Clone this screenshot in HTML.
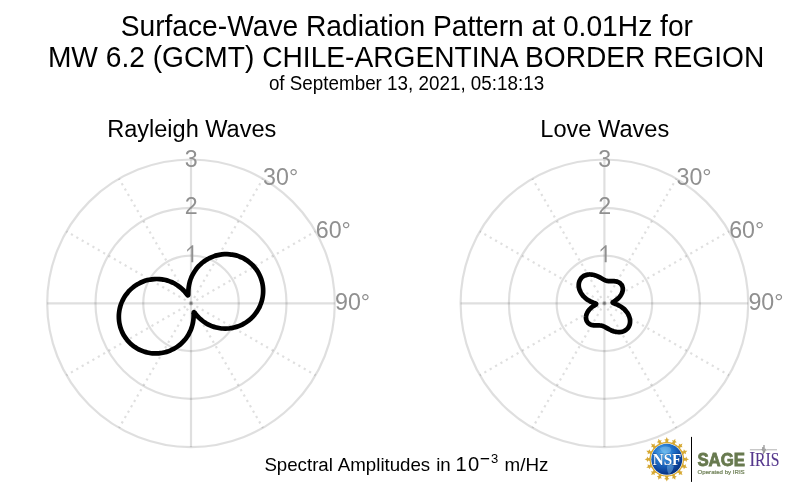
<!DOCTYPE html>
<html><head><meta charset="utf-8"><title>Surface-Wave Radiation Pattern</title>
<style>
html,body{margin:0;padding:0;background:#fff;}
body{width:800px;height:493px;overflow:hidden;font-family:"Liberation Sans",sans-serif;}
svg{display:block;will-change:transform;font-family:"Liberation Sans",sans-serif;}
</style></head><body>
<svg width="800" height="493" viewBox="0 0 800 493">
<rect width="800" height="493" fill="#fff"/>
<g fill="#000" text-anchor="middle">
<text transform="translate(406.8,35.5) scale(1,1.03)" font-size="28.2">Surface-Wave Radiation Pattern at 0.01Hz for</text>
<text transform="translate(406.1,66.5) scale(1,1.03)" font-size="28.16">MW 6.2 (GCMT) CHILE-ARGENTINA BORDER REGION</text>
<text transform="translate(406.5,89.7) scale(1,1.03)" font-size="18.83">of September 13, 2021, 05:18:13</text>
<text transform="translate(191.75,136.8) scale(1,1.03)" font-size="23.55">Rayleigh Waves</text>
<text transform="translate(604.75,136.8) scale(1,1.03)" font-size="23.6">Love Waves</text>
</g>
<circle cx="191.0" cy="303.3" r="47.75" stroke="#000" stroke-opacity="0.125" stroke-width="2.2" fill="none"/>
<circle cx="191.0" cy="303.3" r="95.50" stroke="#000" stroke-opacity="0.125" stroke-width="2.2" fill="none"/>
<circle cx="191.0" cy="303.3" r="143.80" stroke="#000" stroke-opacity="0.125" stroke-width="2.2" fill="none"/>
<line x1="191.0" y1="303.3" x2="191.00" y2="159.50" stroke="#000" stroke-opacity="0.125" stroke-width="2.2" fill="none"/>
<line x1="191.0" y1="303.3" x2="262.90" y2="178.77" stroke="#000" stroke-opacity="0.125" stroke-width="2.2" fill="none" stroke-dasharray="2.2 4.0" />
<line x1="191.0" y1="303.3" x2="315.53" y2="231.40" stroke="#000" stroke-opacity="0.125" stroke-width="2.2" fill="none" stroke-dasharray="2.2 4.0" />
<line x1="191.0" y1="303.3" x2="334.80" y2="303.30" stroke="#000" stroke-opacity="0.125" stroke-width="2.2" fill="none"/>
<line x1="191.0" y1="303.3" x2="315.53" y2="375.20" stroke="#000" stroke-opacity="0.125" stroke-width="2.2" fill="none" stroke-dasharray="2.2 4.0" />
<line x1="191.0" y1="303.3" x2="262.90" y2="427.83" stroke="#000" stroke-opacity="0.125" stroke-width="2.2" fill="none" stroke-dasharray="2.2 4.0" />
<line x1="191.0" y1="303.3" x2="191.00" y2="447.10" stroke="#000" stroke-opacity="0.125" stroke-width="2.2" fill="none"/>
<line x1="191.0" y1="303.3" x2="119.10" y2="427.83" stroke="#000" stroke-opacity="0.125" stroke-width="2.2" fill="none" stroke-dasharray="2.2 4.0" />
<line x1="191.0" y1="303.3" x2="66.47" y2="375.20" stroke="#000" stroke-opacity="0.125" stroke-width="2.2" fill="none" stroke-dasharray="2.2 4.0" />
<line x1="191.0" y1="303.3" x2="47.20" y2="303.30" stroke="#000" stroke-opacity="0.125" stroke-width="2.2" fill="none"/>
<line x1="191.0" y1="303.3" x2="66.47" y2="231.40" stroke="#000" stroke-opacity="0.125" stroke-width="2.2" fill="none" stroke-dasharray="2.2 4.0" />
<line x1="191.0" y1="303.3" x2="119.10" y2="178.77" stroke="#000" stroke-opacity="0.125" stroke-width="2.2" fill="none" stroke-dasharray="2.2 4.0" />
<path d="M193.25,262.15 V245.15 H191.95 L187.15,249.85 V251.65 L191.30,247.85 V262.15 Z" fill="#909090"/>
<text transform="translate(191.30,214.45) scale(0.94,1)" font-size="24.7" fill="#909090" text-anchor="middle">2</text>
<text transform="translate(191.30,166.70) scale(0.94,1)" font-size="24.7" fill="#909090" text-anchor="middle">3</text>
<text transform="translate(263.10,185.37) scale(0.94,1)" font-size="24.7" fill="#909090">30°</text>
<text transform="translate(315.73,238.00) scale(0.94,1)" font-size="24.7" fill="#909090">60°</text>
<text transform="translate(335.00,309.90) scale(0.94,1)" font-size="24.7" fill="#909090">90°</text>
<path d="M191.00,278.26C191.30,277.51 191.62,276.75 191.97,276.01C192.32,275.26 192.70,274.53 193.10,273.80C193.50,273.07 193.93,272.35 194.38,271.65C194.83,270.94 195.31,270.25 195.81,269.57C196.31,268.89 196.84,268.23 197.39,267.58C197.93,266.94 198.51,266.31 199.10,265.69C199.69,265.08 200.31,264.49 200.94,263.92C201.58,263.35 202.24,262.79 202.91,262.26C203.59,261.73 204.28,261.22 204.99,260.74C205.70,260.26 206.43,259.79 207.18,259.36C207.92,258.92 208.68,258.51 209.45,258.13C210.23,257.74 211.02,257.38 211.81,257.05C212.61,256.72 213.43,256.41 214.25,256.13C215.07,255.86 215.90,255.61 216.74,255.39C217.58,255.17 218.43,254.98 219.28,254.82C220.13,254.65 220.99,254.52 221.86,254.42C222.72,254.32 223.59,254.24 224.45,254.20C225.32,254.16 226.19,254.15 227.06,254.16C227.93,254.18 228.80,254.23 229.67,254.31C230.53,254.39 231.40,254.50 232.25,254.64C233.11,254.77 233.97,254.94 234.81,255.14C235.66,255.34 236.50,255.57 237.33,255.83C238.16,256.08 238.98,256.37 239.79,256.69C240.60,257.00 241.40,257.34 242.18,257.72C242.97,258.09 243.74,258.49 244.49,258.91C245.25,259.34 245.99,259.79 246.72,260.27C247.44,260.75 248.15,261.25 248.84,261.78C249.52,262.31 250.19,262.86 250.84,263.44C251.49,264.01 252.12,264.61 252.73,265.23C253.33,265.85 253.92,266.49 254.48,267.15C255.04,267.81 255.57,268.49 256.08,269.19C256.60,269.89 257.08,270.61 257.54,271.34C258.00,272.08 258.44,272.83 258.85,273.59C259.25,274.36 259.63,275.14 259.99,275.93C260.34,276.72 260.66,277.52 260.96,278.34C261.25,279.15 261.52,279.98 261.75,280.81C261.99,281.64 262.20,282.49 262.38,283.33C262.55,284.18 262.70,285.04 262.82,285.89C262.93,286.75 263.02,287.61 263.08,288.48C263.13,289.34 263.16,290.21 263.15,291.08C263.15,291.94 263.12,292.81 263.05,293.67C262.99,294.54 262.89,295.40 262.76,296.26C262.64,297.11 262.48,297.97 262.30,298.81C262.11,299.66 261.90,300.50 261.66,301.33C261.42,302.16 261.14,302.99 260.84,303.80C260.54,304.61 260.22,305.41 259.86,306.20C259.51,306.99 259.12,307.77 258.72,308.54C258.31,309.30 257.87,310.05 257.41,310.78C256.95,311.51 256.47,312.23 255.96,312.93C255.45,313.63 254.92,314.31 254.37,314.97C253.81,315.64 253.24,316.28 252.64,316.90C252.04,317.52 251.42,318.13 250.79,318.71C250.15,319.29 249.49,319.84 248.82,320.38C248.14,320.91 247.45,321.42 246.74,321.91C246.03,322.40 245.31,322.86 244.57,323.30C243.83,323.74 243.08,324.15 242.32,324.53C241.55,324.92 240.77,325.28 239.99,325.61C239.20,325.94 238.40,326.25 237.60,326.53C236.79,326.80 235.98,327.05 235.15,327.28C234.33,327.50 233.51,327.69 232.68,327.86C231.84,328.03 231.01,328.17 230.17,328.28C229.33,328.39 228.49,328.47 227.65,328.52C226.81,328.57 225.97,328.60 225.13,328.59C224.29,328.59 223.45,328.56 222.61,328.50C221.78,328.44 220.95,328.35 220.12,328.24C219.30,328.12 218.48,327.98 217.67,327.81C216.86,327.64 216.05,327.45 215.26,327.23C214.46,327.00 213.68,326.76 212.91,326.49C212.13,326.21 211.37,325.92 210.63,325.60C209.88,325.28 209.15,324.94 208.43,324.57C207.71,324.21 207.01,323.82 206.32,323.41C205.64,323.01 204.97,322.58 204.33,322.14C203.68,321.70 203.05,321.24 202.45,320.77C201.84,320.30 201.26,319.82 200.70,319.33C200.14,318.84 199.61,318.34 199.10,317.84C198.60,317.34 198.12,316.84 197.67,316.34C197.22,315.85 196.80,315.37 196.42,314.92C196.04,314.46 195.69,314.04 195.39,313.66C195.08,313.28 194.82,312.95 194.60,312.71C194.38,312.46 194.21,312.30 194.07,312.25C193.94,312.19 193.86,312.25 193.80,312.41C193.74,312.58 193.71,312.85 193.70,313.21C193.68,313.57 193.68,314.03 193.68,314.54C193.67,315.05 193.66,315.63 193.64,316.24C193.62,316.85 193.59,317.51 193.54,318.19C193.48,318.87 193.41,319.58 193.32,320.30C193.22,321.02 193.11,321.76 192.97,322.51C192.82,323.26 192.66,324.01 192.47,324.77C192.27,325.53 192.06,326.29 191.81,327.06C191.57,327.82 191.30,328.58 191.00,329.34C190.70,330.09 190.38,330.85 190.03,331.59C189.68,332.34 189.30,333.07 188.90,333.80C188.50,334.53 188.07,335.25 187.62,335.95C187.17,336.66 186.69,337.35 186.19,338.03C185.69,338.71 185.16,339.37 184.61,340.02C184.07,340.66 183.49,341.29 182.90,341.91C182.31,342.52 181.69,343.11 181.06,343.68C180.42,344.25 179.76,344.81 179.09,345.34C178.41,345.87 177.72,346.38 177.01,346.86C176.30,347.34 175.57,347.81 174.82,348.24C174.08,348.68 173.32,349.09 172.55,349.47C171.77,349.86 170.98,350.22 170.19,350.55C169.39,350.88 168.57,351.19 167.75,351.47C166.93,351.74 166.10,351.99 165.26,352.21C164.42,352.43 163.57,352.62 162.72,352.78C161.87,352.95 161.01,353.08 160.14,353.18C159.28,353.28 158.41,353.36 157.55,353.40C156.68,353.44 155.81,353.45 154.94,353.44C154.07,353.42 153.20,353.37 152.33,353.29C151.47,353.21 150.60,353.10 149.75,352.96C148.89,352.83 148.03,352.66 147.19,352.46C146.34,352.26 145.50,352.03 144.67,351.77C143.84,351.52 143.02,351.23 142.21,350.91C141.40,350.60 140.60,350.26 139.82,349.88C139.03,349.51 138.26,349.11 137.51,348.69C136.75,348.26 136.01,347.81 135.28,347.33C134.56,346.85 133.85,346.35 133.16,345.82C132.48,345.29 131.81,344.74 131.16,344.16C130.51,343.59 129.88,342.99 129.27,342.37C128.67,341.75 128.08,341.11 127.52,340.45C126.96,339.79 126.43,339.11 125.92,338.41C125.40,337.71 124.92,336.99 124.46,336.26C124.00,335.52 123.56,334.77 123.15,334.01C122.75,333.24 122.37,332.46 122.01,331.67C121.66,330.88 121.34,330.08 121.04,329.26C120.75,328.45 120.48,327.62 120.25,326.79C120.01,325.96 119.80,325.11 119.62,324.27C119.45,323.42 119.30,322.56 119.18,321.71C119.07,320.85 118.98,319.99 118.92,319.12C118.87,318.26 118.84,317.39 118.85,316.52C118.85,315.66 118.88,314.79 118.95,313.93C119.01,313.06 119.11,312.20 119.24,311.34C119.36,310.49 119.52,309.63 119.70,308.79C119.89,307.94 120.10,307.10 120.34,306.27C120.58,305.44 120.86,304.61 121.16,303.80C121.46,302.99 121.78,302.19 122.14,301.40C122.49,300.61 122.88,299.83 123.28,299.06C123.69,298.30 124.13,297.55 124.59,296.82C125.05,296.09 125.53,295.37 126.04,294.67C126.55,293.97 127.08,293.29 127.63,292.63C128.19,291.96 128.76,291.32 129.36,290.70C129.96,290.08 130.58,289.47 131.21,288.89C131.85,288.31 132.51,287.76 133.18,287.22C133.86,286.69 134.55,286.18 135.26,285.69C135.97,285.20 136.69,284.74 137.43,284.30C138.17,283.86 138.92,283.45 139.68,283.07C140.45,282.68 141.23,282.32 142.01,281.99C142.80,281.66 143.60,281.35 144.40,281.07C145.21,280.80 146.02,280.55 146.85,280.32C147.67,280.10 148.49,279.91 149.32,279.74C150.16,279.57 150.99,279.43 151.83,279.32C152.67,279.21 153.51,279.13 154.35,279.08C155.19,279.03 156.03,279.00 156.87,279.01C157.71,279.01 158.55,279.04 159.39,279.10C160.22,279.16 161.05,279.25 161.88,279.36C162.70,279.48 163.52,279.62 164.33,279.79C165.14,279.96 165.95,280.15 166.74,280.37C167.54,280.60 168.32,280.84 169.09,281.11C169.87,281.39 170.63,281.68 171.37,282.00C172.12,282.32 172.85,282.66 173.57,283.03C174.29,283.39 174.99,283.78 175.68,284.19C176.36,284.59 177.03,285.02 177.67,285.46C178.32,285.90 178.95,286.36 179.55,286.83C180.16,287.30 180.74,287.78 181.30,288.27C181.86,288.76 182.39,289.26 182.90,289.76C183.40,290.26 183.88,290.76 184.33,291.26C184.78,291.75 185.20,292.23 185.58,292.68C185.96,293.14 186.31,293.56 186.61,293.94C186.92,294.32 187.18,294.65 187.40,294.89C187.62,295.14 187.79,295.30 187.93,295.35C188.06,295.41 188.14,295.35 188.20,295.19C188.26,295.02 188.29,294.75 188.30,294.39C188.32,294.03 188.32,293.57 188.32,293.06C188.33,292.55 188.34,291.97 188.36,291.36C188.38,290.75 188.41,290.09 188.46,289.41C188.52,288.73 188.59,288.02 188.68,287.30C188.78,286.58 188.89,285.84 189.03,285.09C189.18,284.34 189.34,283.59 189.53,282.83C189.73,282.07 189.94,281.31 190.19,280.54C190.43,279.78 190.70,279.02 191.00,278.26Z" fill="none" stroke="#000" stroke-width="4.7" stroke-linejoin="round"/>
<circle cx="604.4" cy="303.3" r="47.75" stroke="#000" stroke-opacity="0.125" stroke-width="2.2" fill="none"/>
<circle cx="604.4" cy="303.3" r="95.50" stroke="#000" stroke-opacity="0.125" stroke-width="2.2" fill="none"/>
<circle cx="604.4" cy="303.3" r="143.80" stroke="#000" stroke-opacity="0.125" stroke-width="2.2" fill="none"/>
<line x1="604.4" y1="303.3" x2="604.40" y2="159.50" stroke="#000" stroke-opacity="0.125" stroke-width="2.2" fill="none"/>
<line x1="604.4" y1="303.3" x2="676.30" y2="178.77" stroke="#000" stroke-opacity="0.125" stroke-width="2.2" fill="none" stroke-dasharray="2.2 4.0" />
<line x1="604.4" y1="303.3" x2="728.93" y2="231.40" stroke="#000" stroke-opacity="0.125" stroke-width="2.2" fill="none" stroke-dasharray="2.2 4.0" />
<line x1="604.4" y1="303.3" x2="748.20" y2="303.30" stroke="#000" stroke-opacity="0.125" stroke-width="2.2" fill="none"/>
<line x1="604.4" y1="303.3" x2="728.93" y2="375.20" stroke="#000" stroke-opacity="0.125" stroke-width="2.2" fill="none" stroke-dasharray="2.2 4.0" />
<line x1="604.4" y1="303.3" x2="676.30" y2="427.83" stroke="#000" stroke-opacity="0.125" stroke-width="2.2" fill="none" stroke-dasharray="2.2 4.0" />
<line x1="604.4" y1="303.3" x2="604.40" y2="447.10" stroke="#000" stroke-opacity="0.125" stroke-width="2.2" fill="none"/>
<line x1="604.4" y1="303.3" x2="532.50" y2="427.83" stroke="#000" stroke-opacity="0.125" stroke-width="2.2" fill="none" stroke-dasharray="2.2 4.0" />
<line x1="604.4" y1="303.3" x2="479.87" y2="375.20" stroke="#000" stroke-opacity="0.125" stroke-width="2.2" fill="none" stroke-dasharray="2.2 4.0" />
<line x1="604.4" y1="303.3" x2="460.60" y2="303.30" stroke="#000" stroke-opacity="0.125" stroke-width="2.2" fill="none"/>
<line x1="604.4" y1="303.3" x2="479.87" y2="231.40" stroke="#000" stroke-opacity="0.125" stroke-width="2.2" fill="none" stroke-dasharray="2.2 4.0" />
<line x1="604.4" y1="303.3" x2="532.50" y2="178.77" stroke="#000" stroke-opacity="0.125" stroke-width="2.2" fill="none" stroke-dasharray="2.2 4.0" />
<path d="M606.65,262.15 V245.15 H605.35 L600.55,249.85 V251.65 L604.70,247.85 V262.15 Z" fill="#909090"/>
<text transform="translate(604.70,214.45) scale(0.94,1)" font-size="24.7" fill="#909090" text-anchor="middle">2</text>
<text transform="translate(604.70,166.70) scale(0.94,1)" font-size="24.7" fill="#909090" text-anchor="middle">3</text>
<text transform="translate(676.50,185.37) scale(0.94,1)" font-size="24.7" fill="#909090">30°</text>
<text transform="translate(729.13,238.00) scale(0.94,1)" font-size="24.7" fill="#909090">60°</text>
<text transform="translate(748.40,309.90) scale(0.94,1)" font-size="24.7" fill="#909090">90°</text>
<path d="M604.40,279.92C604.67,280.05 604.94,280.18 605.20,280.29C605.47,280.40 605.73,280.51 605.99,280.60C606.25,280.69 606.50,280.77 606.76,280.84C607.02,280.90 607.27,280.96 607.53,281.01C607.79,281.06 608.05,281.09 608.31,281.12C608.57,281.15 608.83,281.17 609.10,281.18C609.37,281.20 609.64,281.20 609.91,281.21C610.18,281.21 610.46,281.21 610.74,281.20C611.02,281.20 611.30,281.19 611.59,281.18C611.87,281.18 612.16,281.17 612.45,281.17C612.75,281.17 613.04,281.17 613.34,281.17C613.64,281.18 613.93,281.19 614.23,281.21C614.53,281.23 614.83,281.26 615.13,281.29C615.43,281.33 615.73,281.37 616.03,281.43C616.33,281.48 616.62,281.55 616.91,281.63C617.20,281.71 617.49,281.80 617.77,281.90C618.05,282.01 618.33,282.13 618.59,282.26C618.86,282.39 619.12,282.53 619.37,282.69C619.63,282.85 619.87,283.02 620.10,283.21C620.33,283.39 620.55,283.59 620.76,283.81C620.97,284.02 621.16,284.25 621.34,284.48C621.52,284.72 621.69,284.98 621.84,285.24C621.99,285.51 622.12,285.78 622.24,286.07C622.36,286.36 622.46,286.66 622.54,286.96C622.63,287.27 622.69,287.59 622.74,287.91C622.78,288.24 622.81,288.57 622.81,288.91C622.82,289.25 622.81,289.60 622.77,289.95C622.74,290.30 622.69,290.66 622.61,291.02C622.54,291.37 622.44,291.74 622.33,292.10C622.21,292.46 622.08,292.82 621.92,293.18C621.77,293.54 621.59,293.90 621.40,294.26C621.21,294.62 620.99,294.97 620.76,295.32C620.53,295.67 620.29,296.01 620.02,296.34C619.76,296.68 619.48,297.01 619.19,297.33C618.90,297.64 618.59,297.95 618.27,298.25C617.96,298.55 617.63,298.83 617.30,299.11C616.97,299.38 616.64,299.64 616.30,299.89C615.97,300.13 615.63,300.37 615.30,300.58C614.98,300.80 614.66,301.00 614.36,301.18C614.07,301.37 613.79,301.53 613.55,301.69C613.30,301.84 613.09,301.98 612.93,302.10C612.77,302.22 612.66,302.34 612.61,302.44C612.55,302.54 612.56,302.63 612.64,302.72C612.71,302.82 612.85,302.90 613.04,303.00C613.23,303.09 613.48,303.19 613.77,303.30C614.06,303.41 614.40,303.53 614.76,303.66C615.13,303.80 615.52,303.94 615.93,304.11C616.35,304.27 616.78,304.45 617.22,304.65C617.66,304.84 618.11,305.06 618.56,305.29C619.01,305.52 619.47,305.77 619.92,306.04C620.38,306.30 620.83,306.59 621.27,306.89C621.71,307.19 622.15,307.50 622.58,307.83C623.00,308.16 623.42,308.51 623.82,308.87C624.22,309.23 624.61,309.60 624.99,309.99C625.36,310.37 625.72,310.77 626.05,311.18C626.39,311.59 626.71,312.01 627.02,312.44C627.32,312.87 627.60,313.30 627.86,313.74C628.12,314.19 628.36,314.64 628.57,315.09C628.79,315.54 628.98,316.00 629.15,316.46C629.32,316.92 629.47,317.38 629.60,317.85C629.72,318.31 629.82,318.77 629.90,319.23C629.97,319.69 630.02,320.15 630.05,320.60C630.08,321.05 630.08,321.50 630.06,321.95C630.04,322.39 630.00,322.82 629.93,323.25C629.87,323.67 629.78,324.09 629.66,324.50C629.55,324.90 629.42,325.30 629.26,325.68C629.10,326.07 628.93,326.44 628.73,326.79C628.53,327.15 628.31,327.49 628.07,327.82C627.84,328.14 627.58,328.45 627.31,328.74C627.04,329.04 626.75,329.31 626.44,329.57C626.14,329.82 625.82,330.06 625.48,330.28C625.15,330.50 624.80,330.70 624.44,330.88C624.08,331.06 623.71,331.23 623.33,331.37C622.95,331.51 622.56,331.63 622.17,331.73C621.77,331.83 621.37,331.92 620.96,331.98C620.55,332.04 620.13,332.08 619.72,332.11C619.30,332.13 618.88,332.13 618.46,332.12C618.04,332.11 617.61,332.08 617.19,332.03C616.77,331.98 616.35,331.92 615.93,331.84C615.51,331.76 615.10,331.67 614.68,331.56C614.27,331.45 613.87,331.33 613.46,331.20C613.06,331.06 612.67,330.92 612.28,330.77C611.89,330.61 611.50,330.45 611.13,330.28C610.75,330.11 610.38,329.94 610.02,329.76C609.66,329.58 609.31,329.40 608.97,329.21C608.63,329.03 608.29,328.85 607.96,328.66C607.64,328.48 607.32,328.30 607.01,328.12C606.70,327.94 606.39,327.77 606.10,327.60C605.80,327.43 605.51,327.27 605.23,327.12C604.95,326.96 604.67,326.82 604.40,326.68C604.13,326.55 603.86,326.42 603.60,326.31C603.33,326.20 603.07,326.09 602.81,326.00C602.55,325.91 602.30,325.83 602.04,325.76C601.78,325.70 601.53,325.64 601.27,325.59C601.01,325.54 600.75,325.51 600.49,325.48C600.23,325.45 599.97,325.43 599.70,325.42C599.43,325.40 599.16,325.40 598.89,325.39C598.62,325.39 598.34,325.39 598.06,325.40C597.78,325.40 597.50,325.41 597.21,325.42C596.93,325.42 596.64,325.43 596.35,325.43C596.05,325.43 595.76,325.43 595.46,325.43C595.16,325.42 594.87,325.41 594.57,325.39C594.27,325.37 593.97,325.34 593.67,325.31C593.37,325.27 593.07,325.23 592.77,325.17C592.47,325.12 592.18,325.05 591.89,324.97C591.60,324.89 591.31,324.80 591.03,324.70C590.75,324.59 590.47,324.47 590.21,324.34C589.94,324.21 589.68,324.07 589.43,323.91C589.17,323.75 588.93,323.58 588.70,323.39C588.47,323.21 588.25,323.01 588.04,322.79C587.83,322.58 587.64,322.35 587.46,322.12C587.28,321.88 587.11,321.62 586.96,321.36C586.81,321.09 586.68,320.82 586.56,320.53C586.44,320.24 586.34,319.94 586.26,319.64C586.17,319.33 586.11,319.01 586.06,318.69C586.02,318.36 585.99,318.03 585.99,317.69C585.98,317.35 585.99,317.00 586.03,316.65C586.06,316.30 586.11,315.94 586.19,315.58C586.26,315.23 586.36,314.86 586.47,314.50C586.59,314.14 586.72,313.78 586.88,313.42C587.03,313.06 587.21,312.70 587.40,312.34C587.59,311.98 587.81,311.63 588.04,311.28C588.27,310.93 588.51,310.59 588.78,310.26C589.04,309.92 589.32,309.59 589.61,309.27C589.90,308.96 590.21,308.65 590.53,308.35C590.84,308.05 591.17,307.77 591.50,307.49C591.83,307.22 592.16,306.96 592.50,306.71C592.83,306.47 593.17,306.23 593.50,306.02C593.82,305.80 594.14,305.60 594.44,305.42C594.73,305.23 595.01,305.07 595.25,304.91C595.50,304.76 595.71,304.62 595.87,304.50C596.03,304.38 596.14,304.26 596.19,304.16C596.25,304.06 596.24,303.97 596.16,303.88C596.09,303.78 595.95,303.70 595.76,303.60C595.57,303.51 595.32,303.41 595.03,303.30C594.74,303.19 594.40,303.07 594.04,302.94C593.67,302.80 593.28,302.66 592.87,302.49C592.45,302.33 592.02,302.15 591.58,301.95C591.14,301.76 590.69,301.54 590.24,301.31C589.79,301.08 589.33,300.83 588.88,300.56C588.42,300.30 587.97,300.01 587.53,299.71C587.09,299.41 586.65,299.10 586.22,298.77C585.80,298.44 585.38,298.09 584.98,297.73C584.58,297.37 584.19,297.00 583.81,296.61C583.44,296.23 583.08,295.83 582.75,295.42C582.41,295.01 582.09,294.59 581.78,294.16C581.48,293.73 581.20,293.30 580.94,292.86C580.68,292.41 580.44,291.96 580.23,291.51C580.01,291.06 579.82,290.60 579.65,290.14C579.48,289.68 579.33,289.22 579.20,288.75C579.08,288.29 578.98,287.83 578.90,287.37C578.83,286.91 578.78,286.45 578.75,286.00C578.72,285.55 578.72,285.10 578.74,284.65C578.76,284.21 578.80,283.78 578.87,283.35C578.93,282.93 579.02,282.51 579.14,282.10C579.25,281.70 579.38,281.30 579.54,280.92C579.70,280.53 579.87,280.16 580.07,279.81C580.27,279.45 580.49,279.11 580.73,278.78C580.96,278.46 581.22,278.15 581.49,277.86C581.76,277.56 582.05,277.29 582.36,277.03C582.66,276.78 582.98,276.54 583.32,276.32C583.65,276.10 584.00,275.90 584.36,275.72C584.72,275.54 585.09,275.37 585.47,275.23C585.85,275.09 586.24,274.97 586.63,274.87C587.03,274.77 587.43,274.68 587.84,274.62C588.25,274.56 588.67,274.52 589.08,274.49C589.50,274.47 589.92,274.47 590.34,274.48C590.76,274.49 591.19,274.52 591.61,274.57C592.03,274.62 592.45,274.68 592.87,274.76C593.29,274.84 593.70,274.93 594.12,275.04C594.53,275.15 594.93,275.27 595.34,275.40C595.74,275.54 596.13,275.68 596.52,275.83C596.91,275.99 597.30,276.15 597.67,276.32C598.05,276.49 598.42,276.66 598.78,276.84C599.14,277.02 599.49,277.20 599.83,277.39C600.17,277.57 600.51,277.75 600.84,277.94C601.16,278.12 601.48,278.30 601.79,278.48C602.10,278.66 602.41,278.83 602.70,279.00C603.00,279.17 603.29,279.33 603.57,279.48C603.85,279.64 604.13,279.78 604.40,279.92Z" fill="none" stroke="#000" stroke-width="4.7" stroke-linejoin="round"/>
<text x="264.4" y="470.8" font-size="18.68" word-spacing="0.8" fill="#000">Spectral Amplitudes in</text>
<text x="455.6" y="470.8" font-size="20.2" fill="#000" letter-spacing="1.3">10</text>
<rect x="480.7" y="458.0" width="8.4" height="1.35" fill="#000"/>
<text transform="translate(490.9,463.3) scale(1.06,1)" font-size="12.3" fill="#000">3</text>
<text x="504.6" y="470.8" font-size="18.79" fill="#000">m/Hz</text>
<defs>
<radialGradient id="gl" cx="0.40" cy="0.30" r="0.78">
<stop offset="0" stop-color="#63b6ee"/><stop offset="0.4" stop-color="#2173cc"/><stop offset="0.78" stop-color="#0b3f97"/><stop offset="1" stop-color="#082866"/>
</radialGradient>
</defs>
<g>
<polygon points="666.80,437.10 667.70,439.20 669.50,439.70 667.90,440.80 668.80,442.90 664.80,442.90 665.70,440.80 664.10,439.70 665.90,439.20" fill="#d6a832"/><polygon points="675.30,438.79 675.32,441.07 676.80,442.23 674.90,442.63 674.92,444.91 671.23,443.38 672.86,441.79 671.81,440.16 673.66,440.39" fill="#d6a832"/><polygon points="682.50,443.60 681.65,445.72 682.57,447.35 680.66,447.00 679.81,449.12 676.98,446.29 679.10,445.44 678.75,443.53 680.38,444.45" fill="#d6a832"/><polygon points="687.31,450.80 685.71,452.44 685.94,454.29 684.31,453.24 682.72,454.87 681.19,451.18 683.47,451.20 683.87,449.30 685.03,450.78" fill="#d6a832"/><polygon points="689.00,459.30 686.90,460.20 686.40,462.00 685.30,460.40 683.20,461.30 683.20,457.30 685.30,458.20 686.40,456.60 686.90,458.40" fill="#d6a832"/><polygon points="687.31,467.80 685.03,467.82 683.87,469.30 683.47,467.40 681.19,467.42 682.72,463.73 684.31,465.36 685.94,464.31 685.71,466.16" fill="#d6a832"/><polygon points="682.50,475.00 680.38,474.15 678.75,475.07 679.10,473.16 676.98,472.31 679.81,469.48 680.66,471.60 682.57,471.25 681.65,472.88" fill="#d6a832"/><polygon points="675.30,479.81 673.66,478.21 671.81,478.44 672.86,476.81 671.23,475.22 674.92,473.69 674.90,475.97 676.80,476.37 675.32,477.53" fill="#d6a832"/><polygon points="666.80,481.50 665.90,479.40 664.10,478.90 665.70,477.80 664.80,475.70 668.80,475.70 667.90,477.80 669.50,478.90 667.70,479.40" fill="#d6a832"/><polygon points="658.30,479.81 658.28,477.53 656.80,476.37 658.70,475.97 658.68,473.69 662.37,475.22 660.74,476.81 661.79,478.44 659.94,478.21" fill="#d6a832"/><polygon points="651.10,475.00 651.95,472.88 651.03,471.25 652.94,471.60 653.79,469.48 656.62,472.31 654.50,473.16 654.85,475.07 653.22,474.15" fill="#d6a832"/><polygon points="646.29,467.80 647.89,466.16 647.66,464.31 649.29,465.36 650.88,463.73 652.41,467.42 650.13,467.40 649.73,469.30 648.57,467.82" fill="#d6a832"/><polygon points="644.60,459.30 646.70,458.40 647.20,456.60 648.30,458.20 650.40,457.30 650.40,461.30 648.30,460.40 647.20,462.00 646.70,460.20" fill="#d6a832"/><polygon points="646.29,450.80 648.57,450.78 649.73,449.30 650.13,451.20 652.41,451.18 650.88,454.87 649.29,453.24 647.66,454.29 647.89,452.44" fill="#d6a832"/><polygon points="651.10,443.60 653.22,444.45 654.85,443.53 654.50,445.44 656.62,446.29 653.79,449.12 652.94,447.00 651.03,447.35 651.95,445.72" fill="#d6a832"/><polygon points="658.30,438.79 659.94,440.39 661.79,440.16 660.74,441.79 662.37,443.38 658.68,444.91 658.70,442.63 656.80,442.23 658.28,441.07" fill="#d6a832"/>
<circle cx="666.8" cy="459.3" r="16.7" fill="none" stroke="#d6a832" stroke-width="1.2"/>
<circle cx="666.8" cy="459.3" r="15.5" fill="url(#gl)"/>
<path d="M659.8,448.3 q4,-3 10,-1 q3,3 -1,6 q-6,1 -9,-5z M667.8,462.3 q5,-1 6,4 q-1,6 -5,8 q-3,-5 -1,-12z" fill="#8ccbf2" opacity="0.4"/>
<text transform="translate(667.0,465.1) scale(0.86,1)" font-family="'Liberation Serif',serif" font-weight="bold" font-size="17.6" text-anchor="middle" fill="#fff" stroke="#0a2a66" stroke-width="0.3" paint-order="stroke">NSF</text>
</g>
<line x1="691.5" y1="436.9" x2="691.5" y2="481.9" stroke="#000" stroke-width="1"/>
<text transform="translate(697.4,465.7) scale(0.945,1)" font-weight="bold" font-size="17.8" fill="#687a4f" stroke="#687a4f" stroke-width="0.8">SAGE</text>
<text x="697.6" y="474.0" font-size="6.1" fill="#6f8157" stroke="#6f8157" stroke-width="0.2">Operated by IRIS</text>
<g font-family="'Liberation Serif',serif" fill="#55378c" stroke="#55378c" stroke-width="0.1">
<text transform="translate(749.3,466.3) scale(0.85,1)" font-size="21.5">I</text>
<text transform="translate(755.0,466.3) scale(0.85,1)" font-size="18.4">RIS</text>
</g>
<path d="M749.9,449.8 H760.8 l0.8,-0.8 l0.7,1.6 l0.6,-3.6 l0.5,7.2 l0.6,-9.2 l0.6,7.6 l0.6,-3.8 l0.6,1.8 l0.6,-0.8 H777.0" fill="none" stroke="#7a7a7a" stroke-width="0.6"/>

</svg>
</body></html>
